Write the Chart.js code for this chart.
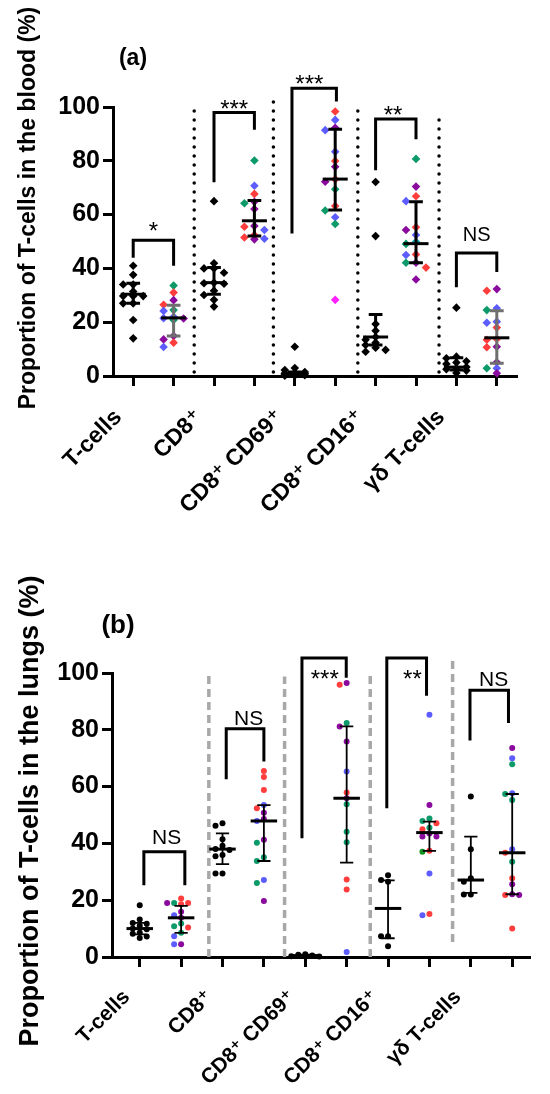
<!DOCTYPE html>
<html>
<head>
<meta charset="utf-8">
<script src="https://cdn.jsdelivr.net/npm/chart.js@4.4.1/dist/chart.umd.min.js"></script>
<style>
  html, body { margin: 0; padding: 0; background: #fff; overflow: hidden; }
  canvas { display: block; }
</style>
</head>
<body>
<canvas id="bloodChart" width="550" height="547"></canvas>
<canvas id="lungChart" width="550" height="547"></canvas>
<script>
const FONT = "'Liberation Sans', Arial, 'DejaVu Sans', sans-serif";

// Group names (x axis), each group = control column + treated column
const groupLabels = ["T-cells", "CD8\u207A", "CD8\u207A CD69\u207A", "CD8\u207A CD16\u207A", "\u03B3\u03B4 T-cells"];
const yTicks = [0, 20, 40, 60, 80, 100];

// ---- Panel (a): blood, % ----
const tCellsBloodCtrl = [41.0, 37.6, 34.0, 34.0, 31.4, 29.7, 29.7, 29.7, 27.0, 27.0, 20.8, 14.0];
const tCellsBloodTreat = [33.6, 31.0, 28.2, 26.5, 24.5, 24.2, 22.0, 21.5, 21.4, 20.8, 14.9, 13.6, 12.4, 10.8];
const cd8BloodCtrl = [65.0, 41.9, 40.0, 40.0, 38.4, 34.7, 34.5, 34.3, 31.7, 30.1, 28.3, 25.8];
const cd8BloodTreat = [80.1, 70.7, 67.7, 64.8, 64.2, 62.1, 55.8, 55.5, 54.3, 52.4, 51.5, 51.0, 50.8];
const cd69BloodCtrl = [10.9, 3.0, 2.2, 1.5, 1.2, 1.0, 0.8, 0.6, 0.5, 0.3, 0.2, 0.1];
const cd69BloodTreat = [98.3, 95.2, 92.3, 91.4, 83.4, 79.9, 77.8, 73.1, 72.2, 69.4, 63.2, 61.5, 59.0, 56.5, 28.3];
const cd16BloodCtrl = [72.1, 52.0, 19.3, 16.8, 14.5, 13.5, 12.4, 11.5, 10.5, 9.7, 9.0];
const cd16BloodTreat = [80.7, 70.4, 66.8, 65.0, 55.3, 54.3, 52.4, 49.9, 49.1, 45.2, 45.0, 42.1, 42.1, 40.3, 35.9];
const gdBloodCtrl = [25.4, 7.2, 6.6, 5.5, 5.0, 4.5, 3.3, 2.9, 2.5, 2.0, 1.1];
const gdBloodTreat = [32.3, 31.7, 25.2, 24.5, 20.2, 19.8, 18.0, 13.8, 13.5, 10.9, 10.7, 5.1, 2.9, 2.9, 1.0];

// median and interquartile range per column (ctrl, treat, ctrl, treat ...)
const bloodMedian = [30.4, 21.6, 34.7, 57.7, 0.7, 73.2, 14.5, 49.2, 3.3, 14.2];
const bloodQ1 = [27.0, 14.9, 30.4, 52.0, 0.3, 61.7, 11.5, 42.1, 2.2, 4.7];
const bloodQ3 = [34.5, 26.3, 40.3, 65.2, 1.5, 91.7, 22.9, 64.8, 6.8, 24.3];

// significance brackets: top and the ends of the left/right legs
const bloodSignif = ["*", "***", "***", "**", "NS"];
const bloodBracketTop = [50.5, 98, 107, 95.5, 45.7];
const bloodBracketLeft = [44, 72, 53, 76.5, 33];
const bloodBracketRight = [41, 91.5, 102, 88, 38.7];

// ---- Panel (b): lungs, % ----
const tCellsLungCtrl = [18.2, 13.2, 12.0, 11.7, 11.0, 10.0, 9.8, 8.5, 8.2, 7.2, 6.7];
const tCellsLungTreat = [20.6, 19.0, 19.0, 19.0, 18.6, 15.9, 14.7, 13.8, 11.8, 10.8, 10.4, 8.5, 7.3, 4.5, 4.5];
const cd8LungCtrl = [47.1, 46.2, 41.5, 39.2, 38.0, 37.7, 35.9, 35.5, 29.4, 29.4];
const cd8LungTreat = [65.5, 63.4, 58.8, 53.5, 52.4, 50.8, 48.6, 47.9, 41.3, 40.2, 35.1, 33.8, 27.1, 26.1, 19.7];
const cd69LungCtrl = [1.0, 0.8, 0.5, 0.3, 0.2];
const cd69LungTreat = [96.5, 95.9, 82.4, 81.2, 75.9, 65.3, 57.9, 55.9, 53.8, 44.1, 40.4, 27.3, 23.8, 1.8];
const cd16LungCtrl = [28.8, 27.1, 26.5, 7.3, 7.3, 3.8];
const cd16LungTreat = [85.3, 53.5, 48.8, 47.9, 47.1, 45.5, 45.0, 43.5, 42.4, 42.4, 37.4, 37.1, 29.4, 15.1, 14.7];
const gdLungCtrl = [56.5, 37.9, 27.7, 26.5, 22.0, 22.0];
const gdLungTreat = [73.6, 70.0, 67.9, 57.7, 57.4, 55.3, 37.9, 36.7, 33.5, 27.7, 25.6, 22.1, 21.8, 21.8, 10.0];

const lungMedian = [10.0, 13.8, 38.0, 47.9, 0.5, 55.9, 17.1, 43.8, 27.1, 36.7];
const lungQ1 = [8.0, 8.5, 32.7, 33.8, 0.3, 33.2, 6.6, 37.4, 22.6, 22.1];
const lungQ3 = [12.0, 18.0, 43.5, 53.5, 0.8, 81.2, 27.0, 47.7, 42.4, 57.4];

const lungSignif = ["NS", "NS", "***", "**", "NS"];
const lungBracketTop = [37.1, 80.4, 105.3, 105.3, 93.9];
const lungBracketLeft = [25.3, 62.6, 41.8, 52.4, 76.2];
const lungBracketRight = [25.3, 68.8, 98.3, 92, 82.4];

// ---- colours of the treated points (one letter per value) ----
const palette = { r: "#ff3d3d", b: "#5c5cff", p: "#8a0a9e", g: "#0b9a68", t: "#14a8b4", m: "#ff22ff", d: "#12901e" };
const bloodTreatColours = ["grprgbbbpgpprb", "gbrpgpprbrrbp", "rbpbbrprpgrgbgm", "gprbrpbtgrbpgrp", "prbgbbrrrprpbgp"];
const lungTreatColours = ["rgrprpbpggrgbpb", "rrrbrppbpgggbgp", "prgppbrpgggrrb", "bpggrgrppprdbrb", "pbgbggbrgrpprpr"];

// spread points of one column sideways so that markers do not sit on top of each other
function swarm(values, centre, p) {
  const placed = [];
  const order = p.maxK === 1 ? [0, -1, 1] : [0, -1, 1, -2, 2];
  return values.map(v => {
    let best = 0, bestGap = -1;
    for (const k of order) {
      let gap = Infinity;
      placed.forEach(q => { if (q.k === k) gap = Math.min(gap, Math.abs(q.v - v) * p.pxPerUnit); });
      if (gap >= p.minGap) { best = k; break; }
      if (gap > bestGap) { best = k; bestGap = gap; }
    }
    placed.push({ k: best, v: v });
    return { x: centre + best * p.step / p.pxPerCat, y: v };
  });
}

function buildDatasets(columns, colourKeys, p) {
  return columns.map((vals, i) => {
    const treated = i % 2 === 1;
    const cols = treated ? colourKeys[(i - 1) / 2].split("").map(k => palette[k]) : "#000";
    return {
      data: swarm(vals, i, p),
      pointStyle: p.pointStyle,
      pointRadius: p.radius,
      pointBorderWidth: 0,
      pointBackgroundColor: cols,
      showLine: false,
      clip: false
    };
  });
}

function decorPlugin(p) {
  return {
    id: "decor",
    beforeDatasetsDraw(chart) {
      const { ctx } = chart;
      const xs = chart.scales.x, ys = chart.scales.y;
      ctx.save();
      ctx.strokeStyle = p.sepColour;
      ctx.lineWidth = p.sepWidth;
      ctx.lineCap = p.sepCap;
      ctx.setLineDash(p.sepDash);
      p.separators.forEach(s => {
        const x = xs.getPixelForValue(s.x);
        ctx.beginPath();
        ctx.moveTo(x, ys.getPixelForValue(s.bottom));
        ctx.lineTo(x, ys.getPixelForValue(s.top));
        ctx.stroke();
      });
      ctx.restore();
    },
    afterDatasetsDraw(chart) {
      const { ctx } = chart;
      const xs = chart.scales.x, ys = chart.scales.y;
      const X = v => xs.getPixelForValue(v), Y = v => ys.getPixelForValue(v);
      ctx.save();
      ctx.lineCap = "butt";
      // median + IQR
      p.median.forEach((m, i) => {
        ctx.strokeStyle = p.greyWhisker.includes(i) ? "#6f6f6f" : "#000";
        ctx.lineWidth = p.whiskerWidth;
        ctx.beginPath();
        ctx.moveTo(X(i), Y(p.q1[i])); ctx.lineTo(X(i), Y(p.q3[i]));
        ctx.moveTo(X(i - p.capHalf), Y(p.q1[i])); ctx.lineTo(X(i + p.capHalf), Y(p.q1[i]));
        ctx.moveTo(X(i - p.capHalf), Y(p.q3[i])); ctx.lineTo(X(i + p.capHalf), Y(p.q3[i]));
        ctx.stroke();
        ctx.strokeStyle = "#000";
        ctx.lineWidth = p.medianWidth;
        ctx.beginPath();
        ctx.moveTo(X(i - p.medHalf), Y(m)); ctx.lineTo(X(i + p.medHalf), Y(m));
        ctx.stroke();
      });
      // brackets and significance labels
      ctx.strokeStyle = "#000";
      ctx.lineWidth = 3;
      ctx.lineJoin = "miter";
      p.signif.forEach((txt, i) => {
        const [x1, x2] = p.bracketX[i];
        ctx.beginPath();
        ctx.moveTo(X(x1), Y(p.left[i]));
        ctx.lineTo(X(x1), Y(p.top[i]));
        ctx.lineTo(X(x2), Y(p.top[i]));
        ctx.lineTo(X(x2), Y(p.right[i]));
        ctx.stroke();
        const star = txt !== "NS";
        ctx.font = (star ? p.starSize : p.nsSize) + "px " + FONT;
        ctx.fillStyle = "#000";
        ctx.textAlign = "center";
        ctx.textBaseline = "alphabetic";
        ctx.fillText(txt, X(p.labelPos[i][0]), Y(p.labelPos[i][1]));
      });
      ctx.restore();
    },
    afterDraw(chart) {
      const { ctx } = chart;
      ctx.save();
      ctx.fillStyle = "#000";
      ctx.textAlign = "center";
      ctx.textBaseline = "middle";
      ctx.font = "bold " + p.tagSize + "px " + FONT;
      ctx.fillText(p.tag, p.tagXY[0], p.tagXY[1]);
      ctx.translate(p.titleXY[0], p.titleXY[1]);
      ctx.rotate(-Math.PI / 2);
      ctx.font = "bold " + p.titleSize + "px " + FONT;
      ctx.fillText(p.title, 0, 0);
      ctx.restore();
    }
  };
}

function makeChart(id, columns, colourKeys, p) {
  const axisBase = {
    border: { display: true, color: "#000", width: 3 },
    grid: { display: true, drawOnChartArea: false, drawTicks: true, tickLength: 10, tickWidth: 3, tickColor: "#000" }
  };
  return new Chart(document.getElementById(id), {
    type: "scatter",
    data: { datasets: buildDatasets(columns, colourKeys, p) },
    options: {
      responsive: false,
      animation: false,
      events: [],
      layout: { padding: { top: p.area.top, right: 550 - p.area.right, left: 0, bottom: 0 } },
      plugins: { legend: { display: false }, tooltip: { enabled: false } },
      scales: {
        x: Object.assign({}, axisBase, {
          type: "linear",
          min: p.xMin,
          max: p.xMax,
          afterBuildTicks: s => { s.ticks = [0, 1, 2, 3, 4, 5, 6, 7, 8, 9].map(v => ({ value: v })); },
          afterFit: s => { s.height = 547 - p.area.bottom; },
          ticks: {
            autoSkip: false,
            minRotation: 45,
            maxRotation: 45,
            padding: p.xLabelPad,
            labelOffset: p.xLabelOffset,
            color: "#000",
            font: { family: FONT, size: p.xLabelSize, weight: "bold" },
            callback: v => (v % 2 === 0 ? groupLabels[v / 2] : "")
          }
        }),
        y: Object.assign({}, axisBase, {
          type: "linear",
          min: 0,
          max: 100,
          afterBuildTicks: s => { s.ticks = yTicks.map(v => ({ value: v })); },
          afterFit: s => { s.width = p.area.left; },
          ticks: {
            padding: 3,
            color: "#000",
            font: { family: FONT, size: 25, weight: "bold" }
          }
        })
      }
    },
    plugins: [decorPlugin(p)]
  });
}

makeChart("bloodChart",
  [tCellsBloodCtrl, tCellsBloodTreat, cd8BloodCtrl, cd8BloodTreat, cd69BloodCtrl, cd69BloodTreat,
   cd16BloodCtrl, cd16BloodTreat, gdBloodCtrl, gdBloodTreat],
  bloodTreatColours,
  {
    area: { left: 113, right: 517, top: 107, bottom: 376 },
    xMin: -0.5, xMax: 9.5,
    step: 10, maxK: 1, pxPerCat: 40.4, pxPerUnit: 2.69, minGap: 5,
    pointStyle: "rectRot", radius: 4.3,
    xLabelSize: 23, xLabelPad: 18, xLabelOffset: -15,
    median: bloodMedian, q1: bloodQ1, q3: bloodQ3, greyWhisker: [1, 9],
    whiskerWidth: 3, medianWidth: 3, capHalf: 0.17, medHalf: 0.31,
    separators: [{ x: 1.51, bottom: 1.5, top: 100 }, { x: 3.47, bottom: 1.5, top: 104.4 },
                 { x: 5.56, bottom: 1.5, top: 100 }, { x: 7.57, bottom: 1.5, top: 98 }],
    sepColour: "#000", sepWidth: 3.5, sepCap: "round", sepDash: [0, 9],
    signif: bloodSignif, top: bloodBracketTop, left: bloodBracketLeft, right: bloodBracketRight,
    bracketX: [[0, 1], [2, 3], [3.93, 5.03], [6, 7], [8, 9]],
    labelPos: [[0.5, 50.9], [2.5, 96.3], [4.36, 105.7], [6.43, 93.9], [8.5, 50.3]],
    starSize: 24, nsSize: 20,
    tag: "(a)", tagXY: [133, 59], tagSize: 23,
    title: "Proportion of T-cells in the blood (%)", titleXY: [29, 208], titleSize: 23
  });

makeChart("lungChart",
  [tCellsLungCtrl, tCellsLungTreat, cd8LungCtrl, cd8LungTreat, cd69LungCtrl, cd69LungTreat,
   cd16LungCtrl, cd16LungTreat, gdLungCtrl, gdLungTreat],
  lungTreatColours,
  {
    area: { left: 112, right: 530, top: 126, bottom: 410 },
    xMin: -0.67, xMax: 9.43,
    step: 7, maxK: 2, pxPerCat: 41.4, pxPerUnit: 2.83, minGap: 5,
    pointStyle: "circle", radius: 3,
    xLabelSize: 21, xLabelPad: 18, xLabelOffset: -13,
    median: lungMedian, q1: lungQ1, q3: lungQ3, greyWhisker: [],
    whiskerWidth: 1.8, medianWidth: 3, capHalf: 0.16, medHalf: 0.32,
    separators: [{ x: 1.67, bottom: 0, top: 100 }, { x: 3.5, bottom: 0, top: 98.8 },
                 { x: 5.57, bottom: 0, top: 100 }, { x: 7.56, bottom: 5.3, top: 105.4 }],
    sepColour: "#a8a8a8", sepWidth: 3.5, sepCap: "butt", sepDash: [8, 5],
    signif: lungSignif, top: lungBracketTop, left: lungBracketLeft, right: lungBracketRight,
    bracketX: [[0.1, 1.09], [2.09, 3.0], [3.92, 4.99], [5.97, 6.93], [7.98, 8.91]],
    labelPos: [[0.65, 39.8], [2.63, 81.8], [4.47, 95.1], [6.59, 95.1], [8.55, 95.3]],
    starSize: 24, nsSize: 21,
    tag: "(b)", tagXY: [118, 79], tagSize: 26,
    title: "Proportion of T-cells in the lungs (%)", titleXY: [31, 264], titleSize: 27
  });
</script>
</body>
</html>
